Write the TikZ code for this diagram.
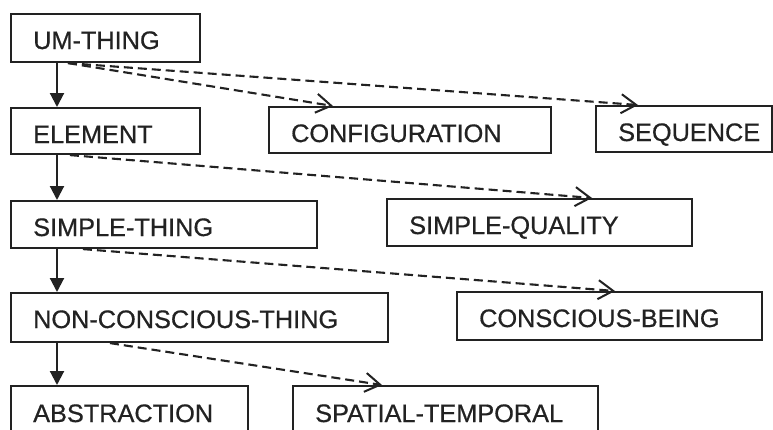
\documentclass[tikz,border=0pt]{standalone}
\usepackage{fontspec}
\setmainfont{Liberation Sans}
\newfontfamily\boxfont{Liberation Sans}[FakeBold=0.6]
\usetikzlibrary{arrows.meta}
\definecolor{ink}{RGB}{34,34,34}
\begin{document}
\begin{tikzpicture}[x=1pt,y=-1pt,
  box/.style={draw=ink, line width=2.1pt, anchor=north west, inner sep=0pt},
  lbl/.style={anchor=base west, inner sep=0pt, text=ink, font=\boxfont\fontsize{25.3}{30}\selectfont},
  isa/.style={draw=ink, line width=2.1pt, -{Triangle[length=14pt,width=14pt]}},
  rel/.style={draw=ink, line width=2.1pt, dash pattern=on 9pt off 5pt,
              -{Straight Barb[length=15pt,width=19pt,line width=2pt]}}]
\useasboundingbox (0,0) rectangle (773,429);
\clip (0,0) rectangle (773,429);
\fill[white] (0,0) rectangle (773,429);

% concept boxes: minimum size = box extent
\node[box, minimum width=189pt, minimum height=48pt] (um) at (10,13) {};
\node[box, minimum width=189pt, minimum height=46pt] (el) at (10,107) {};
\node[box, minimum width=282pt, minimum height=46pt] (cf) at (268,106) {};
\node[box, minimum width=176pt, minimum height=46pt] (sq) at (595,105) {};
\node[box, minimum width=306pt, minimum height=47pt] (st) at (10,200) {};
\node[box, minimum width=305pt, minimum height=47pt] (sl) at (386,198) {};
\node[box, minimum width=377pt, minimum height=49pt] (nc) at (10,292) {};
\node[box, minimum width=305pt, minimum height=48pt] (cb) at (456,291) {};
\node[box, minimum width=237pt, minimum height=50pt] (ab) at (10,385) {};
\node[box, minimum width=305pt, minimum height=50pt] (sp) at (292,385) {};

% labels, set on a common baseline inside each box
\node[lbl] (umt) at ([shift={(23pt,-36pt)}]um.north west) {UM-THING};
\node[lbl] (elt) at ([shift={(23pt,-36pt)}]el.north west) {ELEMENT};
\node[lbl] (cft) at ([shift={(23pt,-36pt)}]cf.north west) {CONFIGURATION};
\node[lbl] (sqt) at ([shift={(23pt,-36pt)}]sq.north west) {SEQUENCE};
\node[lbl] (stt) at ([shift={(23pt,-36pt)}]st.north west) {SIMPLE-THING};
\node[lbl] (slt) at ([shift={(23pt,-36pt)}]sl.north west) {SIMPLE-QUALITY};
\node[lbl] (nct) at ([shift={(23pt,-36pt)}]nc.north west) {NON-CONSCIOUS-THING};
\node[lbl] (cbt) at ([shift={(23pt,-36pt)}]cb.north west) {CONSCIOUS-BEING};
\node[lbl] (abt) at ([shift={(23pt,-37pt)}]ab.north west) {ABSTRACTION};
\node[lbl] (spt) at ([shift={(23pt,-37pt)}]sp.north west) {SPATIAL-TEMPORAL};

% subsumption spine
\draw[isa] ([xshift=47pt]um.south west) -- ([xshift=47pt]el.north west);
\draw[isa] ([xshift=47pt]el.south west) -- ([xshift=47pt]st.north west);
\draw[isa] ([xshift=47pt]st.south west) -- ([xshift=47pt]nc.north west);
\draw[isa] ([xshift=47pt]nc.south west) -- ([xshift=47pt]ab.north west);

% disjoint siblings
\draw[rel] ([xshift=58pt]um.south west) -- ([xshift=65pt]cf.north west);
\draw[rel] ([xshift=58pt]um.south west) -- ([xshift=43pt]sq.north west);
\draw[rel] ([xshift=60pt]el.south west) -- ([xshift=206pt]sl.north west);
\draw[rel] ([xshift=73pt]st.south west) -- ([xshift=159pt]cb.north west);
\draw[rel] ([xshift=100pt]nc.south west) -- ([xshift=90pt]sp.north west);
\end{tikzpicture}
\end{document}
